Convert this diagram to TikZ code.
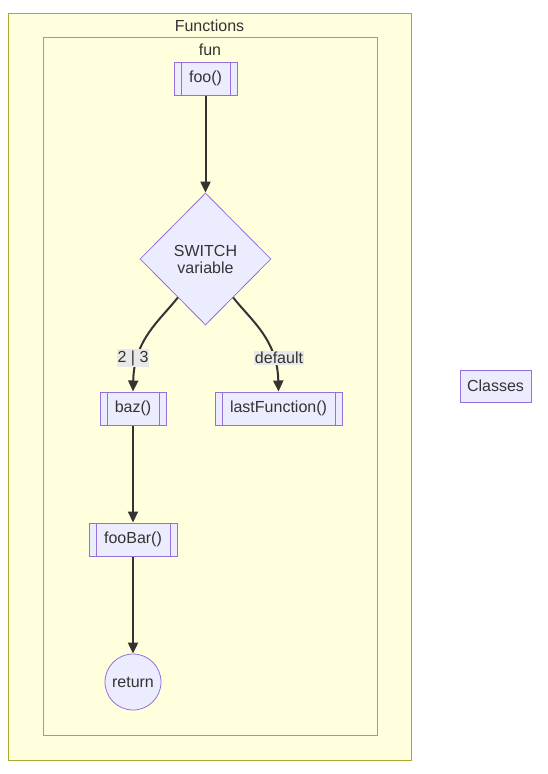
\documentclass[tikz,border=0pt]{standalone}
\usepackage{fontspec}
\setmainfont{Liberation Sans}
\usetikzlibrary{shapes.geometric,arrows.meta,calc}
\definecolor{grpfill}{HTML}{FFFFDE}
\definecolor{grpline}{HTML}{AAAA33}
\definecolor{nodefill}{HTML}{ECECFF}
\definecolor{nodeline}{HTML}{9370DB}
\definecolor{edgecol}{HTML}{333333}
\definecolor{txt}{HTML}{333333}
\definecolor{lblbg}{HTML}{E8E8E8}
\begin{document}
\begin{tikzpicture}[x=1pt,y=-1pt,
  every node/.style={text=txt,font=\fontsize{16}{19}\selectfont},
  group/.style={draw=grpline,fill=grpfill,line width=1pt},
  plain/.style={draw=nodeline,fill=nodefill,line width=1pt,minimum height=33pt,inner sep=0pt},
  subr/.style={plain,
    path picture={
      \draw[nodeline,line width=1pt]
        ([xshift=7pt]path picture bounding box.north west) -- ([xshift=7pt]path picture bounding box.south west)
        ([xshift=-7pt]path picture bounding box.north east) -- ([xshift=-7pt]path picture bounding box.south east);}},
  decision/.style={diamond,draw=nodeline,fill=nodefill,line width=0.8pt,minimum width=131pt,minimum height=132pt,inner sep=0pt,align=center},
  terminal/.style={circle,draw=nodeline,fill=nodefill,line width=0.8pt,minimum size=56pt,inner sep=0pt},
  flow/.style={draw=edgecol,line width=2pt,-{Triangle[length=11pt,width=10pt]}},
  lbl/.style={fill=lblbg,inner xsep=1pt,inner ysep=1.5pt}]
\useasboundingbox (0,0) rectangle (547,774);

% subgraphs
\draw[group] (8,13) rectangle (411,760);
\node (tFunctions) at (209.5,26) {Functions};
\draw[group] (43,37) rectangle (377,735);
\node (tFun) at (210,50) {fun};

% nodes
\node[subr,minimum width=63pt] (foo) at (205.5,78.5) {foo()};
\node[decision] (sw) at (205.5,259) {SWITCH\\[-2pt]variable};
\node[subr,minimum width=66pt] (baz) at (133,408.5) {baz()};
\node[subr,minimum width=127pt] (last) at (278.5,408.5) {lastFunction()};
\node[subr,minimum width=88pt] (fooBar) at (133,539.5) {fooBar()};
\node[terminal] (ret) at (133,682) {return};
\node[plain,minimum width=71pt,minimum height=32pt] (classes) at (495.5,386) {Classes};

% exits on the lower edges of the decision
\coordinate (swL) at ($(sw.west)!0.58!(sw.south)$);
\coordinate (swR) at ($(sw.east)!0.58!(sw.south)$);

% connectors
\draw[flow] (foo.south) -- (sw.north);
\draw[flow] (swL) .. controls ++(-18,23) and ++(1,-52) .. (baz.north);
\draw[flow] (swR) .. controls ++(18,23) and ++(-1,-52) .. (last.north);
\draw[flow] (baz.south) -- (fooBar.north);
\draw[flow] (fooBar.south) -- (ret.north);

% connector labels
\node[lbl] (l23) at (133,358) {2 | 3};
\node[lbl] (ldef) at (279,358) {default};
\end{tikzpicture}
\end{document}
